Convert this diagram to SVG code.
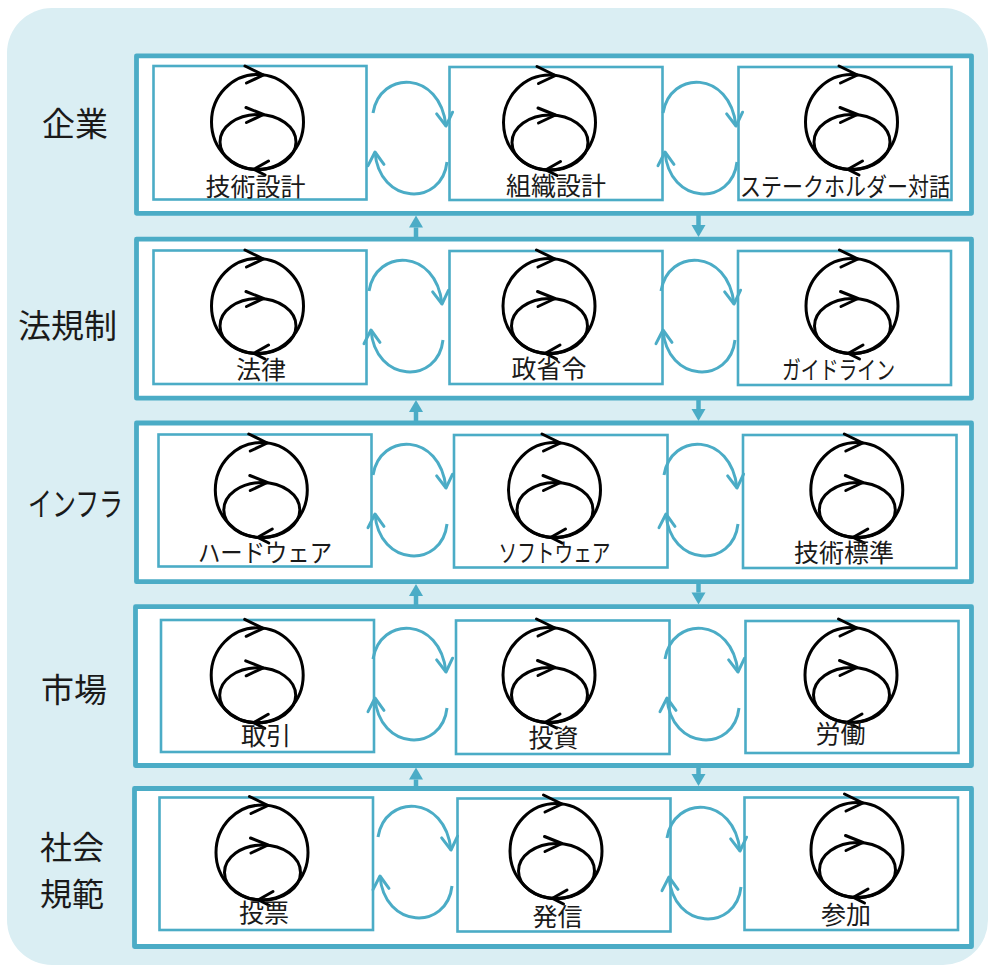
<svg xmlns="http://www.w3.org/2000/svg" xmlns:xlink="http://www.w3.org/1999/xlink" width="989" height="966" viewBox="0 0 989 966">
<style>
.bg{fill:#DAEEF3}
.row{fill:#fff;stroke:#4BACC6;stroke-width:4.8;stroke-linejoin:round}
.box{fill:#fff;stroke:#4BACC6;stroke-width:2.6}
.ic{fill:none;stroke:#000;stroke-width:3;stroke-linecap:round;stroke-linejoin:round}
.arc{fill:none;stroke:#4BACC6;stroke-width:3;marker-end:url(#chev)}
.v{stroke:#4BACC6;stroke-width:4.5;marker-end:url(#tri)}
.lbl{font-family:"Noto Sans CJK JP","Noto Sans CJK SC",sans-serif;font-size:25px;fill:#1a1a1a;text-anchor:middle;dominant-baseline:central}
.rl{font-size:33px}
.rl2{font-size:32px}
</style>
<defs>
<marker id="chev" markerUnits="userSpaceOnUse" viewBox="-16 -11 19 22" markerWidth="19" markerHeight="22" refX="0" refY="0" orient="auto" overflow="visible">
<path d="M-13,-8 L0,0 L-13,8" fill="none" stroke="#4BACC6" stroke-width="3" stroke-linecap="round" stroke-linejoin="round"/>
</marker>
<marker id="tri" markerUnits="userSpaceOnUse" viewBox="0 0 12 14" markerWidth="12" markerHeight="14" refX="0" refY="7" orient="auto" overflow="visible">
<path d="M0,0 L12,7 L0,14 z" fill="#4BACC6"/>
</marker>
<g id="cyc">
<ellipse class="ic" cx="0" cy="0" rx="46" ry="47.5"/>
<ellipse class="ic" cx="0.5" cy="20" rx="38" ry="27.5"/>
<path class="ic" d="M-12.5,-56 L6,-47 L-11,-39"/>
<path class="ic" d="M-11.5,-14.5 L6,-7.5 L-11,0.5"/>
<path class="ic" d="M11,39 L-3.5,47.3 L7.5,53"/>
</g>
</defs>
<rect class="bg" x="7" y="8" width="981" height="957" rx="45" ry="45"/>

<g id="row-kigyo">
<rect class="row" x="136.5" y="55.8" width="835" height="157.5"/>
<text class="lbl rl" x="75" y="122">企業</text>
</g>
<g id="row-houkisei">
<rect class="row" x="136.5" y="239.2" width="835" height="159"/>
<text class="lbl rl" x="67.5" y="324">法規制</text>
</g>
<g id="row-infra">
<rect class="row" x="136.5" y="423" width="835" height="158.7"/>
<text class="lbl rl" x="75.5" y="502" textLength="95" lengthAdjust="spacingAndGlyphs">インフラ</text>
</g>
<g id="row-shijou">
<rect class="row" x="135.5" y="606.7" width="836" height="158.8"/>
<text class="lbl rl" x="74" y="688">市場</text>
</g>
<g id="row-shakaikihan">
<rect class="row" x="134.5" y="788.5" width="837" height="158"/>
<text class="lbl rl2" x="72" y="845">社会</text>
<text class="lbl rl2" x="72" y="892">規範</text>
</g>

<g id="node-gijutsusekkei"><rect class="box" x="153.5" y="66" width="213" height="133.5"/><use xlink:href="#cyc" href="#cyc" x="257.5" y="122"/><text class="lbl" x="255.5" y="184.5">技術設計</text></g>
<g id="node-soshikisekkei"><rect class="box" x="449.5" y="67" width="213" height="133"/><use xlink:href="#cyc" href="#cyc" x="549.5" y="122.5"/><text class="lbl" x="556" y="184">組織設計</text></g>
<g id="node-stakeholder"><rect class="box" x="738.5" y="67" width="213" height="133"/><use xlink:href="#cyc" href="#cyc" x="851.5" y="122"/><text class="lbl" x="845" y="184.5" textLength="210" lengthAdjust="spacingAndGlyphs">ステークホルダー対話</text></g>

<g id="node-houritsu"><rect class="box" x="153.5" y="250.5" width="213" height="133.5"/><use xlink:href="#cyc" href="#cyc" x="257.5" y="306"/><text class="lbl" x="261" y="368">法律</text></g>
<g id="node-seishourei"><rect class="box" x="449.5" y="251" width="213" height="133"/><use xlink:href="#cyc" href="#cyc" x="549" y="306"/><text class="lbl" x="549" y="366.5">政省令</text></g>
<g id="node-guideline"><rect class="box" x="738" y="251" width="213" height="134"/><use xlink:href="#cyc" href="#cyc" x="852" y="306"/><text class="lbl" x="838.5" y="368" textLength="113" lengthAdjust="spacingAndGlyphs">ガイドライン</text></g>

<g id="node-hardware"><rect class="box" x="158.5" y="434.5" width="213" height="132"/><use xlink:href="#cyc" href="#cyc" x="261.3" y="490"/><text class="lbl" x="265" y="551" textLength="134" lengthAdjust="spacingAndGlyphs">ハードウェア</text></g>
<g id="node-software"><rect class="box" x="454" y="435" width="213.5" height="132.5"/><use xlink:href="#cyc" href="#cyc" x="554.5" y="490"/><text class="lbl" x="554.5" y="551" textLength="112" lengthAdjust="spacingAndGlyphs">ソフトウェア</text></g>
<g id="node-gijutsuhyoujun"><rect class="box" x="743" y="435" width="213.5" height="133"/><use xlink:href="#cyc" href="#cyc" x="856.8" y="490"/><text class="lbl" x="844" y="550.5">技術標準</text></g>

<g id="node-torihiki"><rect class="box" x="161" y="620" width="213" height="132"/><use xlink:href="#cyc" href="#cyc" x="257.2" y="675.3"/><text class="lbl" x="266" y="734">取引</text></g>
<g id="node-toushi"><rect class="box" x="456" y="620.5" width="213.5" height="133.5"/><use xlink:href="#cyc" href="#cyc" x="549" y="675"/><text class="lbl" x="553.5" y="735.5">投資</text></g>
<g id="node-roudou"><rect class="box" x="745.5" y="621" width="213" height="132"/><use xlink:href="#cyc" href="#cyc" x="851" y="675"/><text class="lbl" x="840.5" y="732">労働</text></g>

<g id="node-touhyou"><rect class="box" x="159.5" y="797.5" width="213.5" height="132.5"/><use xlink:href="#cyc" href="#cyc" x="262" y="852.5"/><text class="lbl" x="264" y="911">投票</text></g>
<g id="node-hasshin"><rect class="box" x="457.5" y="798.5" width="213" height="133"/><use xlink:href="#cyc" href="#cyc" x="556" y="851"/><text class="lbl" x="557.5" y="915">発信</text></g>
<g id="node-sanka"><rect class="box" x="744.5" y="797.5" width="213.5" height="132.5"/><use xlink:href="#cyc" href="#cyc" x="857" y="850"/><text class="lbl" x="846" y="913">参加</text></g>

<g id="connectors">
<g transform="translate(410,82)"><path class="arc" d="M-37,31 C-30,-12 30,-12 36,44"/><path class="arc" d="M37,80 C32,125 -31,123 -35,70"/></g>
<g transform="translate(700,82)"><path class="arc" d="M-37,31 C-30,-12 30,-12 36,44"/><path class="arc" d="M37,80 C32,125 -31,123 -35,70"/></g>
<g transform="translate(406,260)"><path class="arc" d="M-37,31 C-30,-12 30,-12 36,44"/><path class="arc" d="M37,80 C32,125 -31,123 -35,70"/></g>
<g transform="translate(698,260)"><path class="arc" d="M-37,31 C-30,-12 30,-12 36,44"/><path class="arc" d="M37,80 C32,125 -31,123 -35,70"/></g>
<g transform="translate(410,444)"><path class="arc" d="M-37,31 C-30,-12 30,-12 36,44"/><path class="arc" d="M37,80 C32,125 -31,123 -35,70"/></g>
<g transform="translate(701,444)"><path class="arc" d="M-37,31 C-30,-12 30,-12 36,44"/><path class="arc" d="M37,80 C32,125 -31,123 -35,70"/></g>
<g transform="translate(410,628)"><path class="arc" d="M-37,31 C-30,-12 30,-12 36,44"/><path class="arc" d="M37,80 C32,125 -31,123 -35,70"/></g>
<g transform="translate(702,628)"><path class="arc" d="M-37,31 C-30,-12 30,-12 36,44"/><path class="arc" d="M37,80 C32,125 -31,123 -35,70"/></g>
<g transform="translate(415,806)"><path class="arc" d="M-37,31 C-30,-12 30,-12 36,44"/><path class="arc" d="M37,80 C32,125 -31,123 -35,70"/></g>
<g transform="translate(704,807)"><path class="arc" d="M-37,31 C-30,-12 30,-12 36,44"/><path class="arc" d="M37,80 C32,125 -31,123 -35,70"/></g>

<line class="v" x1="416" y1="239" x2="416" y2="227.5"/>
<line class="v" x1="698.5" y1="213.5" x2="698.5" y2="225"/>
<line class="v" x1="416" y1="423" x2="416" y2="412"/>
<line class="v" x1="698.5" y1="398" x2="698.5" y2="409"/>
<line class="v" x1="416" y1="606.7" x2="416" y2="596"/>
<line class="v" x1="698.5" y1="581.7" x2="698.5" y2="592.5"/>
<line class="v" x1="416" y1="788.5" x2="416" y2="779.5"/>
<line class="v" x1="698.5" y1="765.5" x2="698.5" y2="774"/>
</g>
</svg>
